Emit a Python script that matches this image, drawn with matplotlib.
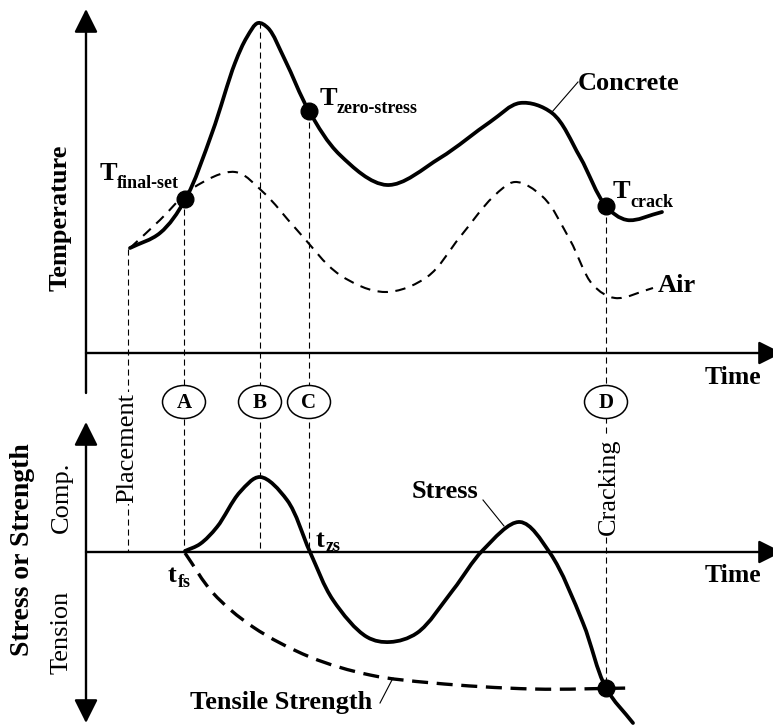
"""Schematic: concrete/air temperature history and the resulting stress vs tensile strength."""

import numpy as np
import matplotlib
matplotlib.use("Agg")
import matplotlib.pyplot as plt
from matplotlib.path import Path
from matplotlib.patches import PathPatch, Ellipse

# curves are in picture units: x = time, y grows downward
concrete_t = [130, 160, 185, 212, 235, 247, 258, 268, 285, 309, 340, 387, 440, 490,
              520, 552, 580, 606, 627, 662]
concrete_T = [248, 233, 200, 133, 63, 37, 23, 28, 60, 111, 155, 185, 158, 122,
              103, 113, 157, 206, 220, 212]

air_t = [130, 160, 193, 235, 263, 297, 340, 385, 427, 460, 493, 515, 543, 570,
         593, 615, 653]
air_T = [248, 220, 188, 172, 192, 230, 275, 292, 277, 237, 197, 182, 197, 240,
         285, 298, 288]

stress_t = [185, 200, 217, 240, 260, 287, 310, 333, 367, 390, 417, 453, 483, 520,
            550, 583, 606, 633]
stress_s = [551, 544, 527, 492, 477, 500, 552, 600, 637, 642, 633, 590, 550, 522,
            553, 623, 688, 723]

tensile_t = [185, 213, 253, 310, 370, 433, 533, 632]
tensile_s = [553, 593, 627, 657, 675, 683, 689, 688]

# event markers (vertical guides) and where they start / stop
event_names = ["", "A", "B", "C", "D"]
event_x = [128, 184, 260, 309, 606]
event_top = [249, 199, 22, 112, 207]
event_bottom = [552, 552, 552, 552, 688]

# key points marked with dots
dot_t = [185, 309, 606, 606]
dot_y = [199, 111, 206, 688]

TEMP_AXIS_Y = 353
STRESS_AXIS_Y = 552
Y_AXIS_X = 86

FONT = "Liberation Serif"


def smooth_path(xs, ys, alpha=0.5):
    # centripetal Catmull-Rom through the points, as cubic Bezier segments
    p = np.column_stack([xs, ys]).astype(float)
    p = np.vstack([2 * p[0] - p[1], p, 2 * p[-1] - p[-2]])
    verts = [p[1]]
    codes = [Path.MOVETO]
    for i in range(1, len(p) - 2):
        p0, p1, p2, p3 = p[i - 1], p[i], p[i + 1], p[i + 2]
        d1 = np.linalg.norm(p1 - p0) ** alpha
        d2 = np.linalg.norm(p2 - p1) ** alpha
        d3 = np.linalg.norm(p3 - p2) ** alpha
        c1 = (d1 ** 2 * p2 - d2 ** 2 * p0 + (2 * d1 ** 2 + 3 * d1 * d2 + d2 ** 2) * p1) \
            / (3 * d1 * (d1 + d2))
        c2 = (d3 ** 2 * p1 - d2 ** 2 * p3 + (2 * d3 ** 2 + 3 * d3 * d2 + d2 ** 2) * p2) \
            / (3 * d3 * (d3 + d2))
        verts += [c1, c2, p2]
        codes += [Path.CURVE4] * 3
    return Path(verts, codes)


def arrow(ax, start, end, style="-|>"):
    ax.annotate("", xy=end, xytext=start,
                arrowprops=dict(arrowstyle=style, color="k", lw=1.7,
                                mutation_scale=36, shrinkA=0, shrinkB=0),
                annotation_clip=False)


def sub_label(ax, x, y, main, sub, dx, dy, size=19, sub_size=13):
    ax.text(x, y, main, fontsize=size, fontweight="bold", family=FONT,
            ha="left", va="baseline")
    ax.text(x + dx, y + dy, sub, fontsize=sub_size, fontweight="bold", family=FONT,
            ha="left", va="baseline")


def main() -> None:
    fig = plt.figure(figsize=(7.73, 7.26), dpi=100)
    ax = fig.add_axes([0, 0, 1, 1])
    ax.set_xlim(0, 773)
    ax.set_ylim(726, 0)
    ax.axis("off")

    # axes
    arrow(ax, (Y_AXIS_X, 393), (Y_AXIS_X, 9))
    arrow(ax, (Y_AXIS_X, TEMP_AXIS_Y), (782, TEMP_AXIS_Y))
    arrow(ax, (Y_AXIS_X, 422), (Y_AXIS_X, 723), style="<|-|>")
    arrow(ax, (Y_AXIS_X, STRESS_AXIS_Y), (782, STRESS_AXIS_Y))

    # vertical guides
    for x, y0, y1 in zip(event_x, event_top, event_bottom):
        ax.plot([x, x], [y0, y1], color="k", lw=0.8, ls=(0, (5.5, 3.5)), zorder=1)

    for name, x in zip(event_names, event_x):
        if not name:
            continue
        ax.add_patch(Ellipse((x, 402), 43, 33, facecolor="white", edgecolor="k",
                             lw=1.1, zorder=3))
        ax.text(x, 403, name, fontsize=15, fontweight="bold", family=FONT,
                ha="center", va="center", zorder=4)

    # curves
    ax.add_patch(PathPatch(smooth_path(air_t, air_T), fill=False, color="k",
                           lw=1.5, ls=(0, (5, 3.6)), zorder=2))
    ax.add_patch(PathPatch(smooth_path(concrete_t, concrete_T), fill=False,
                           color="k", lw=2.7, zorder=2, capstyle="round"))
    ax.add_patch(PathPatch(smooth_path(tensile_t, tensile_s), fill=False, color="k",
                           lw=2.4, ls=(0, (4.8, 2.6)), zorder=2))
    ax.add_patch(PathPatch(smooth_path(stress_t, stress_s), fill=False,
                           color="k", lw=2.7, zorder=2, capstyle="round"))

    ax.plot(dot_t, dot_y, "o", color="k", ms=12, zorder=5)

    # leader lines
    ax.plot([552, 578], [112, 82], color="k", lw=0.8)
    ax.plot([483, 504], [500, 526], color="k", lw=0.8)
    ax.plot([380, 393], [703, 678], color="k", lw=0.8)

    # labels
    bold = dict(fontsize=19, fontweight="bold", family=FONT)
    reg = dict(fontsize=19, family=FONT)
    ax.text(60, 218, "Temperature", rotation=90, ha="center", va="center", **bold)
    ax.text(23, 550, "Stress or Strength", rotation=90, ha="center", va="center",
            fontsize=20, fontweight="bold", family=FONT)
    ax.text(62, 497, "Comp.", rotation=90, ha="center", va="center", **reg)
    ax.text(62, 632, "Tension", rotation=90, ha="center", va="center", **reg)
    ax.text(127, 448, "Placement", rotation=90, ha="center", va="center",
            bbox=dict(facecolor="white", edgecolor="none", pad=1), zorder=3, **reg)
    ax.text(609, 487, "Cracking", rotation=90, ha="center", va="center",
            bbox=dict(facecolor="white", edgecolor="none", pad=1), zorder=3, **reg)

    ax.text(733, 378, "Time", ha="center", va="center", fontsize=18.5,
            fontweight="bold", family=FONT)
    ax.text(733, 576, "Time", ha="center", va="center", fontsize=18.5,
            fontweight="bold", family=FONT)
    ax.text(578, 83, "Concrete", ha="left", va="center", **bold)
    ax.text(658, 285, "Air", ha="left", va="center", **bold)
    ax.text(445, 491, "Stress", ha="center", va="center", **bold)
    ax.text(281, 703, "Tensile Strength", ha="center", va="center", **bold)

    sub_label(ax, 100, 180, "T", "final-set", 17, 8)
    sub_label(ax, 320, 105, "T", "zero-stress", 17, 8)
    sub_label(ax, 613, 198, "T", "crack", 17, 9)
    sub_label(ax, 168, 582, "t", "fs", 10, 5)
    sub_label(ax, 316, 547, "t", "zs", 10, 4)

    fig.savefig("out.png", dpi=100)
    plt.close(fig)


if __name__ == "__main__":
    main()
